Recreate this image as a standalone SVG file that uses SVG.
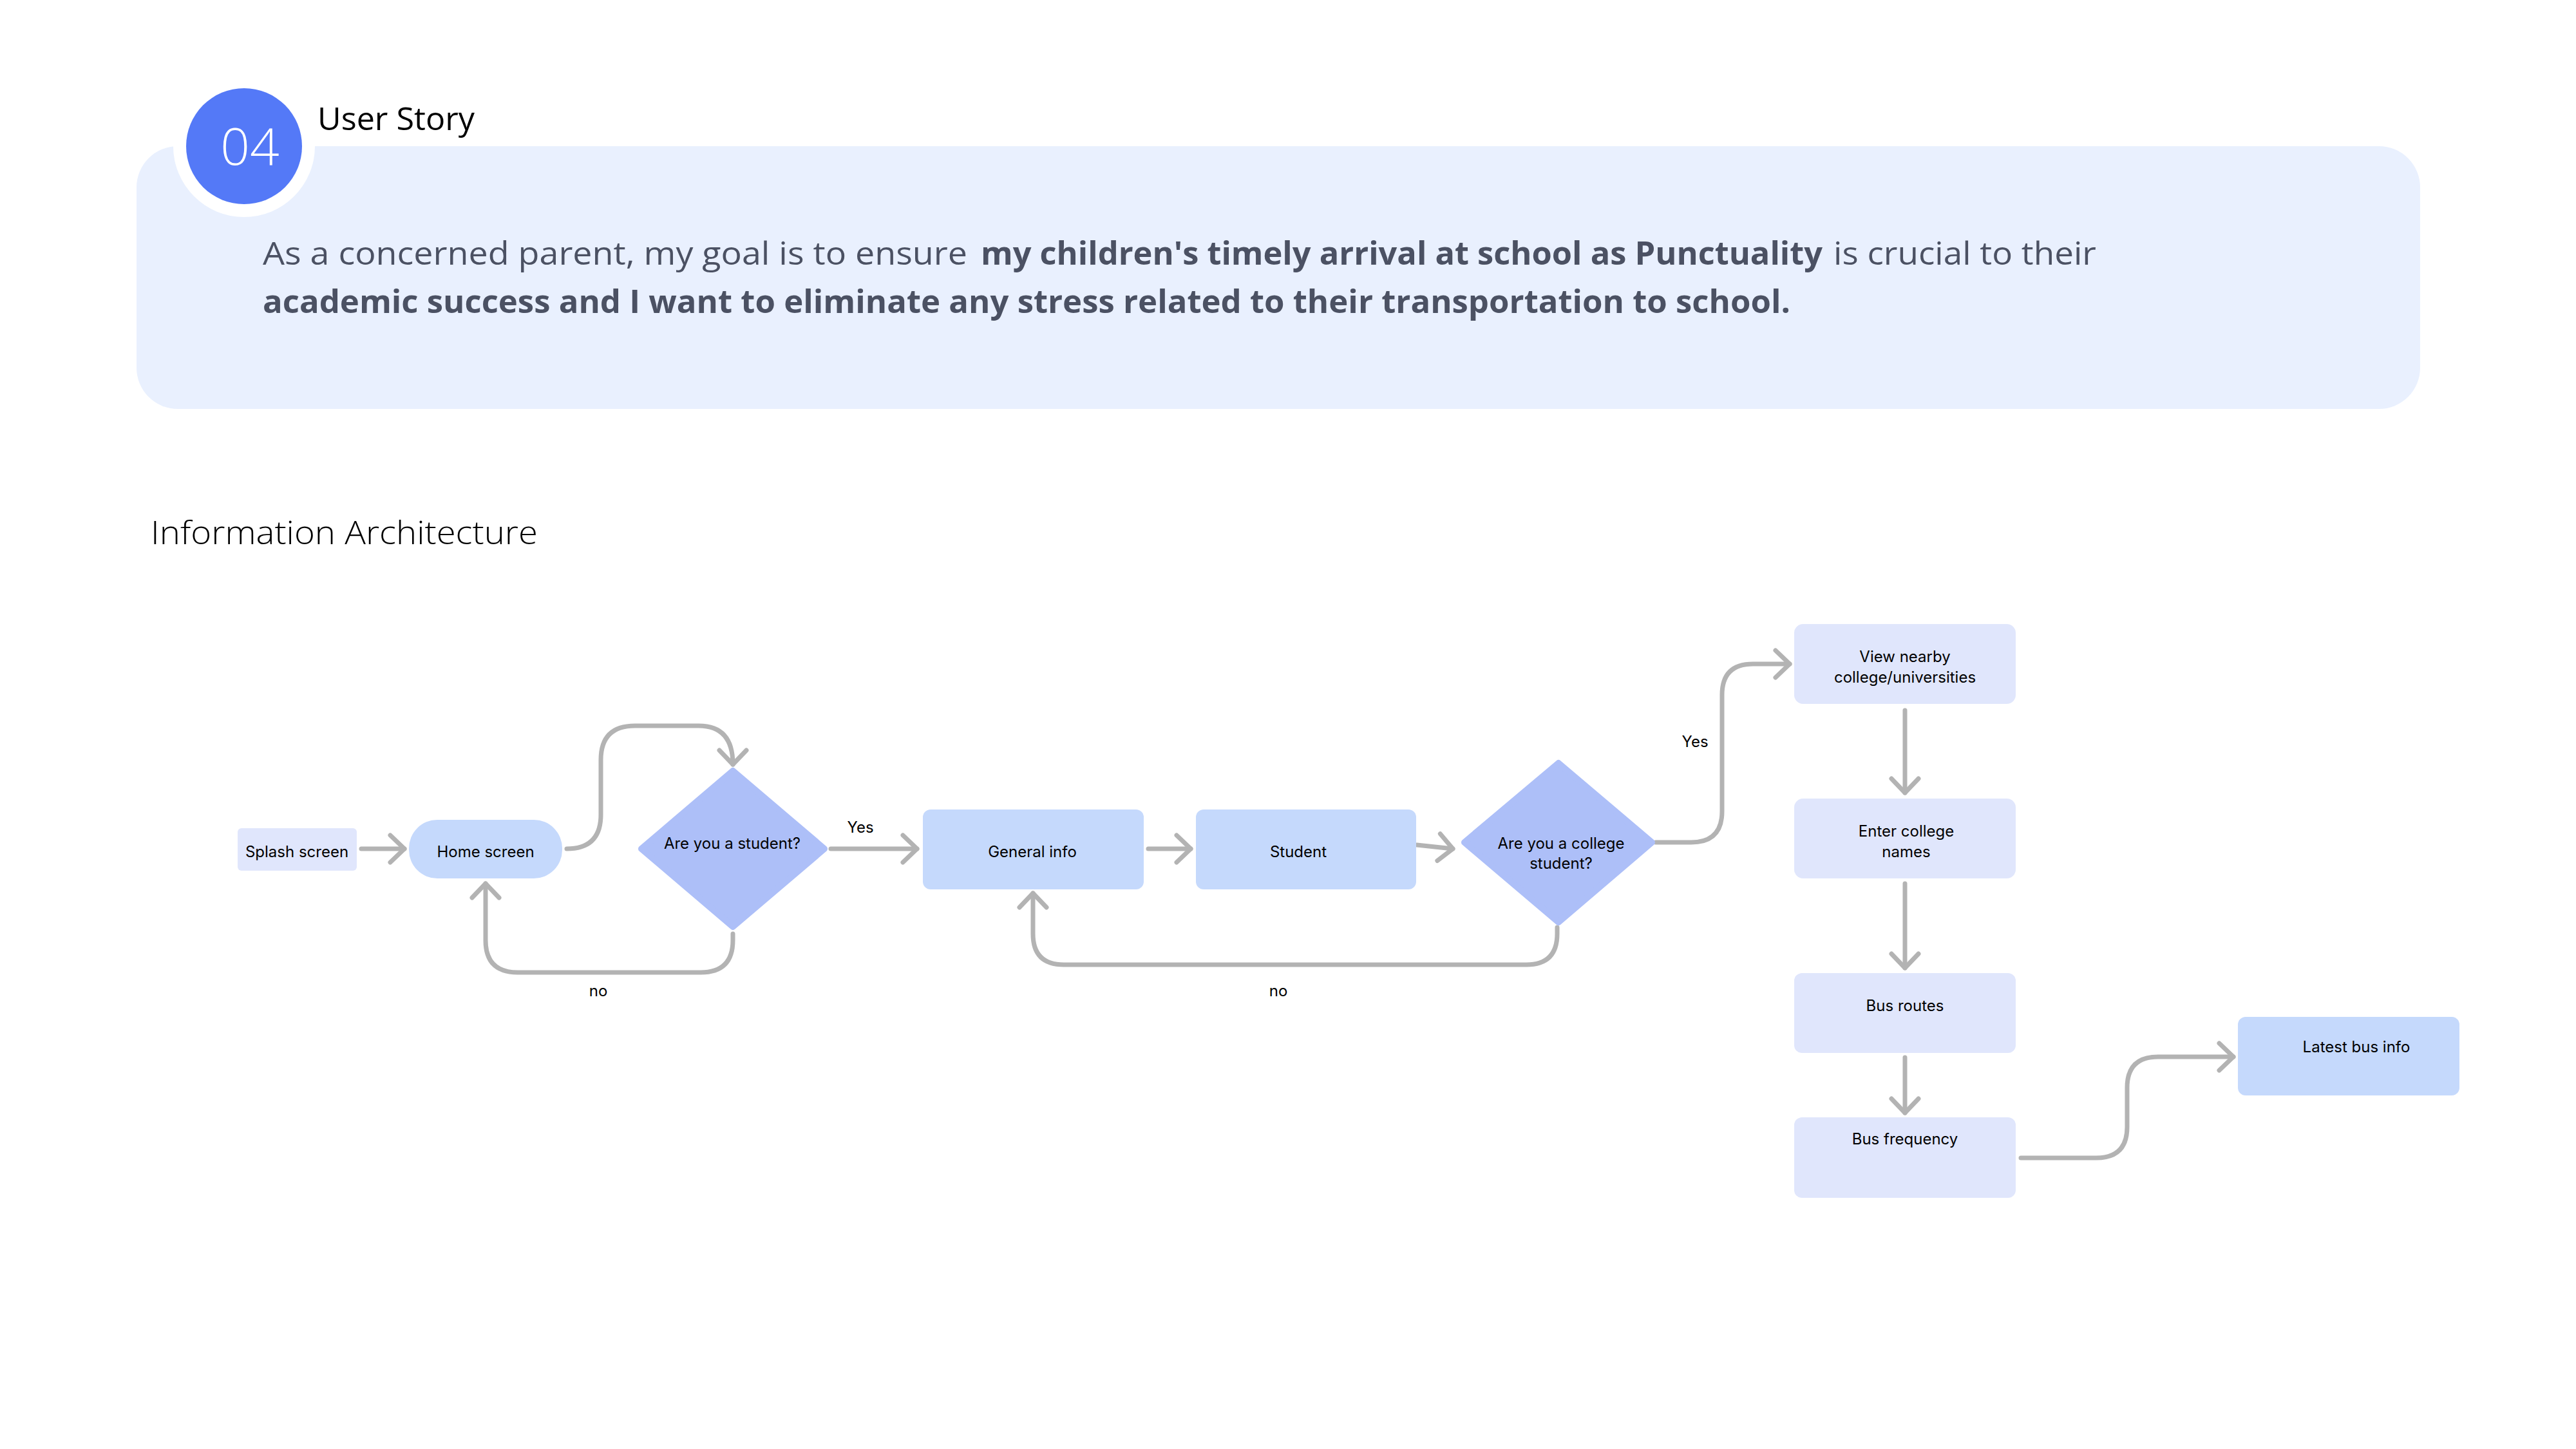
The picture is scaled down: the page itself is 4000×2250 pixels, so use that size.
<svg xmlns="http://www.w3.org/2000/svg" width="4000" height="2250" viewBox="0 0 4000 2250">
<style>
.hdr{font-family:"Open Sans","Liberation Sans",sans-serif;}
.body{font-family:"Open Sans","Liberation Sans",sans-serif;font-size:50px;fill:#4B5163;}
.b{font-weight:700;}
.lbl{font-family:Inter,"Liberation Sans",sans-serif;font-size:24px;fill:#000;text-anchor:middle;font-weight:400;}
.n1{fill:#E0E6FC;}
.n2{fill:#C5D9FC;}
.dia{fill:#ADBFF8;stroke:#ADBFF8;stroke-width:10;stroke-linejoin:round;}
.con{fill:none;stroke:#B3B3B3;stroke-width:7;stroke-linecap:round;stroke-linejoin:round;marker-end:url(#arr);}
</style>
<defs>
<marker id="arr" markerUnits="userSpaceOnUse" markerWidth="60" markerHeight="60" viewBox="-30 -30 60 60" refX="0" refY="0" orient="auto" overflow="visible">
<path d="M -22 -21 L 0 0 L -22 21" fill="none" stroke="#B3B3B3" stroke-width="7" stroke-linecap="round" stroke-linejoin="round"/>
</marker>
</defs>
<rect width="4000" height="2250" fill="#FFFFFF"/>

<g id="user-story">
<rect x="212" y="227" width="3546" height="408" rx="64" fill="#E9F0FE"/>
<circle cx="379" cy="227" r="110" fill="#FFFFFF"/>
<circle cx="379" cy="227" r="90" fill="#5479F7"/>
<text x="388" y="256" class="hdr" font-size="80" font-weight="300" fill="#FFFFFF" text-anchor="middle">04</text>
<text x="493" y="202" class="hdr" font-size="49" fill="#000" textLength="244" lengthAdjust="spacingAndGlyphs">User Story</text>
<text x="408" y="411" class="body" textLength="1094" lengthAdjust="spacingAndGlyphs">As a concerned parent, my goal is to ensure</text>
<text x="1523" y="411" class="body b" textLength="1307" lengthAdjust="spacingAndGlyphs">my children's timely arrival at school as Punctuality</text>
<text x="2847" y="411" class="body" textLength="408" lengthAdjust="spacingAndGlyphs">is crucial to their</text>
<text x="408" y="486" class="body b" textLength="2372" lengthAdjust="spacingAndGlyphs">academic success and I want to eliminate any stress related to their transportation to school.</text>
</g>

<text x="234" y="845" class="hdr" font-size="50" font-weight="300" fill="#000" textLength="601" lengthAdjust="spacingAndGlyphs">Information Architecture</text>

<g id="connectors">
<path class="con" d="M 561 1318 L 628 1318"/>
<path class="con" d="M 880 1318 Q 933 1318 933 1265 L 933 1180 Q 933 1127 986 1127 L 1085 1127 Q 1138 1127 1138 1187"/>
<path class="con" d="M 1138 1450 L 1138 1460 Q 1138 1510 1088 1510 L 804 1510 Q 754 1510 754 1460 L 754 1372"/>
<path class="con" d="M 1290 1318 L 1424 1318"/>
<path class="con" d="M 1783 1318 L 1849 1318"/>
<path class="con" d="M 2200 1312 L 2256 1318"/>
<path class="con" d="M 2418 1440 L 2418 1450 Q 2418 1498 2370 1498 L 1652 1498 Q 1604 1498 1604 1450 L 1604 1387"/>
<path class="con" d="M 2571 1308 L 2626 1308 Q 2674 1308 2674 1260 L 2674 1079 Q 2674 1031 2722 1031 L 2779 1031"/>
<path class="con" d="M 2958 1103 L 2958 1231"/>
<path class="con" d="M 2958 1372 L 2958 1503"/>
<path class="con" d="M 2958 1642 L 2958 1728"/>
<path class="con" d="M 3138 1798 L 3255 1798 Q 3303 1798 3303 1750 L 3303 1689 Q 3303 1641 3351 1641 L 3468 1641"/>
<text x="929" y="1547" class="lbl">no</text>
<text x="1336" y="1293" class="lbl">Yes</text>
<text x="1985" y="1547" class="lbl">no</text>
<text x="2632" y="1160" class="lbl">Yes</text>
</g>

<g id="splash">
<rect class="n1" x="369" y="1286" width="185" height="66" rx="6"/>
<text x="461" y="1331" class="lbl">Splash screen</text>
</g>
<g id="home">
<rect class="n2" x="635" y="1273" width="238" height="91" rx="44"/>
<text x="754" y="1331" class="lbl">Home screen</text>
</g>
<g id="q-student">
<polygon class="dia" points="1138,1197 1280,1318 1138,1439 996,1318"/>
<text x="1137" y="1318" class="lbl">Are you a student?</text>
</g>
<g id="general-info">
<rect class="n2" x="1433" y="1257" width="343" height="124" rx="12"/>
<text x="1603" y="1331" class="lbl">General info</text>
</g>
<g id="student">
<rect class="n2" x="1857" y="1257" width="342" height="124" rx="12"/>
<text x="2016" y="1331" class="lbl">Student</text>
</g>
<g id="q-college">
<polygon class="dia" points="2420,1185 2565,1308 2420,1432 2274,1308"/>
<text x="2424" y="1318" class="lbl">Are you a college</text>
<text x="2424" y="1349" class="lbl">student?</text>
</g>
<g id="view-nearby">
<rect class="n1" x="2786" y="969" width="344" height="124" rx="14"/>
<text x="2958" y="1028" class="lbl">View nearby</text>
<text x="2958" y="1060" class="lbl">college/universities</text>
</g>
<g id="enter-college">
<rect class="n1" x="2786" y="1240" width="344" height="124" rx="14"/>
<text x="2960" y="1299" class="lbl">Enter college</text>
<text x="2960" y="1331" class="lbl">names</text>
</g>
<g id="bus-routes">
<rect class="n1" x="2786" y="1511" width="344" height="124" rx="12"/>
<text x="2958" y="1570" class="lbl">Bus routes</text>
</g>
<g id="bus-frequency">
<rect class="n1" x="2786" y="1735" width="344" height="125" rx="12"/>
<text x="2958" y="1777" class="lbl">Bus frequency</text>
</g>
<g id="latest-bus-info">
<rect class="n2" x="3475" y="1579" width="344" height="122" rx="12"/>
<text x="3659" y="1634" class="lbl">Latest bus info</text>
</g>
</svg>
